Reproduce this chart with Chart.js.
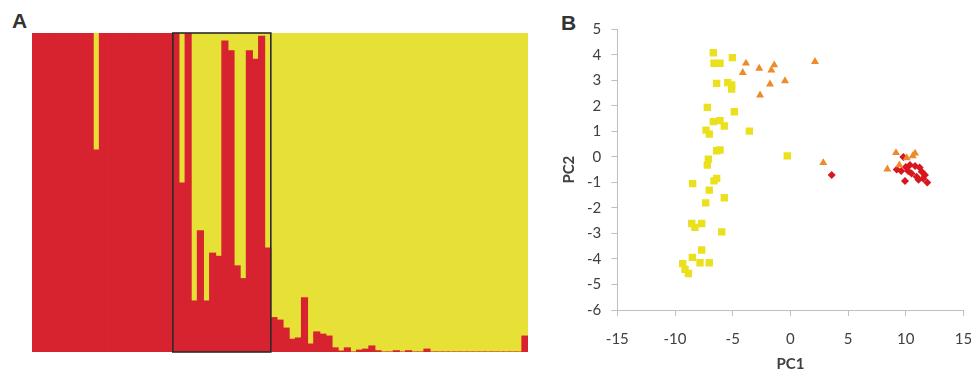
<!DOCTYPE html>
<html>
<head>
<meta charset="utf-8">
<script src="https://cdn.jsdelivr.net/npm/chart.js@4.4.1/dist/chart.umd.min.js"></script>
<style>
  html, body { margin: 0; padding: 0; background: #ffffff; overflow: hidden; }
  body { width: 971px; height: 377px; position: relative; }
  .panel-label { position: absolute; font-family: "Liberation Sans", Arial, sans-serif; font-weight: bold; font-size: 21px; line-height: 21px; color: #333333; }
  .box { position: absolute; }
</style>
</head>
<body>
<div class="panel-label" style="left:12px; top:10px;">A</div>
<div class="panel-label" style="left:561px; top:12px;">B</div>
<div class="box" style="left:30px; top:31px; width:500px; height:323px;"><canvas id="chartA" width="500" height="323"></canvas></div>
<div class="box" style="left:545px; top:15px; width:430px; height:362px;"><canvas id="chartB" width="430" height="362"></canvas></div>
<script>
// ---------- Panel A: membership proportions (red cluster share per individual) ----------
const redLeft  = [1,1,1,1,1,1,1,1,1,1,0.633,1,1,1,1,1,1,1,1,1,1,1,1];
const redBoxed = [1.0,0.53,1.0,0.16,0.38,0.16,0.31,0.30,0.975,0.944,0.27,0.23,0.944,0.918,0.99,0.326];
const redRight = [0.108,0.10,0.075,0.04,0.044,0.17,0.025,0.063,0.056,0.05,0.013,0.003,0.013,0,0.006,0.009,0.019,0.004,0,0,0.004,0,0.004,0,0,0.009,0,0,0,0,0,0,0,0,0,0,0,0,0,0,0,0.05];
const redShare = redLeft.concat(redBoxed, redRight);
const yellowShare = redShare.map(v => 1 - v);
const individuals = redShare.map((_, i) => String(i + 1));
const boxedFirst = redLeft.length;
const boxedLast = redLeft.length + redBoxed.length - 1;

// ---------- Panel B: PCA scores ----------
const yellowPC1 = [-6.68,-6.62,-6.10,-5.03,-6.39,-5.43,-5.09,-5.09,-7.20,-4.86,-6.68,-6.10,-5.73,-7.31,-7.03,-3.56,-6.39,-6.10,-7.11,-7.20,-6.39,-6.62,-8.47,-7.03,-5.73,-7.34,-8.55,-7.69,-8.27,-5.95,-7.69,-8.50,-7.03,-7.83,-9.33,-9.13,-8.84,-0.27];
const yellowPC2 = [4.08,3.67,3.67,3.89,2.88,2.91,2.82,2.66,1.94,1.77,1.38,1.42,1.21,1.05,0.89,1.01,0.24,0.27,-0.09,-0.32,-0.84,-0.94,-1.05,-1.30,-1.60,-1.80,-2.61,-2.61,-2.76,-2.94,-3.65,-3.94,-4.15,-4.15,-4.18,-4.41,-4.57,0.04];
const orangePC1 = [-3.85,-4.13,-2.70,-1.77,-2.63,-1.40,-1.65,-0.47,2.13,2.85,8.40,9.15,10.80,10.60,10.08,9.44];
const orangePC2 = [3.67,3.30,3.47,2.85,2.42,3.60,3.40,2.98,3.73,-0.23,-0.48,0.16,0.14,0.04,-0.04,-0.32];
const redPC1 = [3.58,9.79,10.36,9.21,10.80,11.38,11.66,10.94,9.93,11.86,11.10,10.50,9.60,11.20,10.00,11.50,10.20];
const redPC2 = [-0.71,0.00,-0.32,-0.49,-0.36,-0.58,-0.71,-0.78,-0.94,-1.00,-0.90,-0.65,-0.55,-0.42,-0.40,-0.85,-0.55];

const xTicksB = [-15,-10,-5,0,5,10,15];
const yTicksB = [-6,-5,-4,-3,-2,-1,0,1,2,3,4,5];

const RED = '#d6232f', YELLOW = '#e7e037';

const boxPlugin = {
  id: 'boxPlugin',
  afterDatasetsDraw(chart) {
    const xs = chart.scales.x, area = chart.chartArea, ctx = chart.ctx;
    const half = (xs.getPixelForValue(1) - xs.getPixelForValue(0)) / 2;
    const x0 = xs.getPixelForValue(boxedFirst) - half;
    const x1 = xs.getPixelForValue(boxedLast) + half;
    ctx.save();
    ctx.strokeStyle = '#2b2b2b';
    ctx.lineWidth = 1.6;
    ctx.strokeRect(x0, area.top, x1 - x0, area.bottom - area.top);
    ctx.restore();
  }
};

new Chart(document.getElementById('chartA'), {
  type: 'bar',
  data: {
    labels: individuals,
    datasets: [
      { data: redShare, backgroundColor: RED, borderWidth: 0, inflateAmount: 0.5, barPercentage: 1, categoryPercentage: 1 },
      { data: yellowShare, backgroundColor: YELLOW, borderWidth: 0, inflateAmount: 0.5, barPercentage: 1, categoryPercentage: 1 }
    ]
  },
  options: {
    responsive: false, animation: false,
    layout: { padding: { left: 2, right: 2, top: 2, bottom: 2 } },
    plugins: { legend: { display: false }, tooltip: { enabled: false } },
    scales: {
      x: { display: false, stacked: true },
      y: { display: false, stacked: true, min: 0, max: 1 }
    }
  },
  plugins: [boxPlugin]
});

const zip = (a, b) => a.map((v, i) => ({ x: v, y: b[i] }));
const tickFont = { family: 'Lato, "Open Sans", sans-serif', size: 15 };
const titleFont = { family: 'Lato, "Open Sans", sans-serif', size: 15, weight: 'bold' };
const AXIS = '#bfbfbf', TXT = '#404040';

new Chart(document.getElementById('chartB'), {
  type: 'scatter',
  data: {
    datasets: [
      { data: zip(orangePC1, orangePC2), pointStyle: 'triangle', pointRadius: 4.6, backgroundColor: '#ee8a2a', borderColor: '#ee8a2a', borderWidth: 0, order: 1 },
      { data: zip(redPC1, redPC2), pointStyle: 'rectRot', pointRadius: 4, backgroundColor: '#d9151f', borderColor: '#d9151f', borderWidth: 0, order: 2 },
      { data: zip(yellowPC1, yellowPC2), pointStyle: 'rect', pointRadius: 5.2, backgroundColor: '#ebe01c', borderColor: '#ebe01c', borderWidth: 0, order: 3 }
    ]
  },
  options: {
    responsive: false, animation: false,
    layout: { padding: { left: 0, right: 11.5, top: 14.3, bottom: 0 } },
    plugins: { legend: { display: false }, tooltip: { enabled: false } },
    scales: {
      x: {
        type: 'linear', min: -15, max: 15,
        afterBuildTicks: s => { s.ticks = xTicksB.map(v => ({ value: v })); },
        afterFit: s => { s.height = 67; s.paddingLeft = 0; s.paddingRight = 0; },
        ticks: { font: tickFont, color: TXT, padding: 14, maxRotation: 0 },
        grid: { display: true, drawOnChartArea: false, drawTicks: true, tickLength: 6, color: AXIS },
        border: { display: true, color: AXIS, width: 1 },
        title: { display: true, text: 'PC1', font: titleFont, color: TXT, padding: { top: 4, bottom: 4 } }
      },
      y: {
        type: 'linear', min: -6, max: 5,
        afterBuildTicks: s => { s.ticks = yTicksB.map(v => ({ value: v })); },
        afterFit: s => { s.width = 72.3; s.paddingTop = 0; s.paddingBottom = 0; },
        ticks: { font: tickFont, color: TXT, padding: 10 },
        grid: { display: true, drawOnChartArea: false, drawTicks: true, tickLength: 6, color: AXIS },
        border: { display: true, color: AXIS, width: 1 },
        title: { display: true, text: 'PC2', font: titleFont, color: TXT, padding: { top: 15, bottom: 0 } }
      }
    }
  }
});
</script>
</body>
</html>
